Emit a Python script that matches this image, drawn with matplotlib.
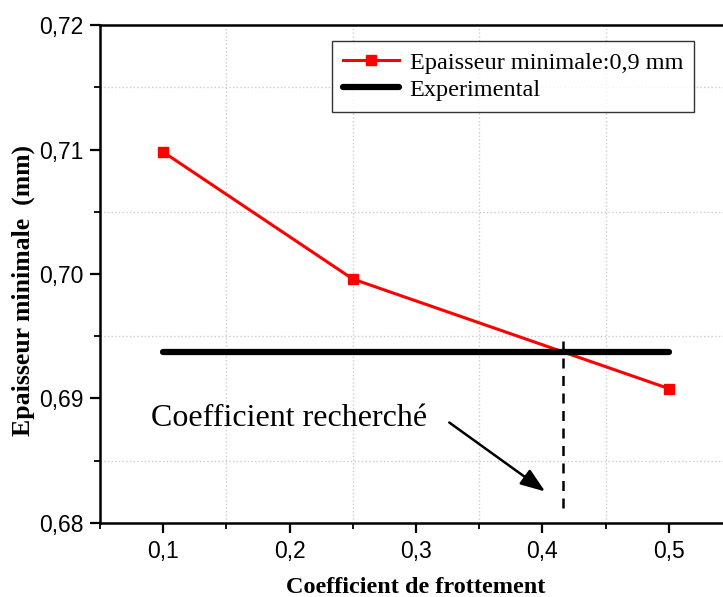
import matplotlib.pyplot as plt
from matplotlib.ticker import MultipleLocator, FuncFormatter

coef = [0.1, 0.25, 0.5]
epaisseur = [0.7098, 0.6996, 0.6908]
exp_x = [0.1, 0.5]
exp_val = [0.6937, 0.6937]
coef_recherche = 0.416

fig = plt.figure(figsize=(7.23, 5.97), dpi=100)
ax = fig.add_axes([0.1383, 0.124, 0.874, 0.834])

ax.plot(coef, epaisseur, color='red', lw=2.2, marker='s', ms=7,
        label='Epaisseur minimale:0,9 mm')
ax.plot(exp_x, exp_val, color='black', lw=4.5, solid_capstyle='round',
        label='Experimental')

# ligne pointillee du coefficient recherche
ax.plot([coef_recherche, coef_recherche], [0.6812, 0.6946], color='black',
        lw=1.8, ls=(0, (4, 3)))
ax.annotate('', xy=(0.404, 0.6824), xytext=(0.3246, 0.6882),
            arrowprops=dict(arrowstyle='-|>,head_length=1.5,head_width=0.55',
                            color='black', lw=1.8))
ax.text(0.09, 0.6884, 'Coefficient recherché', family='Liberation Serif',
        fontsize=23, va='center', ha='left')

ax.set_xlim(0.05, 0.55)
ax.set_ylim(0.68, 0.72)
ax.xaxis.set_major_locator(MultipleLocator(0.1))
ax.xaxis.set_minor_locator(MultipleLocator(0.05))
ax.yaxis.set_major_locator(MultipleLocator(0.01))
ax.yaxis.set_minor_locator(MultipleLocator(0.005))
ax.xaxis.set_major_formatter(FuncFormatter(lambda v, p: f'{v:.1f}'.replace('.', ',')))
ax.yaxis.set_major_formatter(FuncFormatter(lambda v, p: f'{v:.2f}'.replace('.', ',')))

ax.grid(which='minor', color='#cccccc', ls=':', lw=1)
ax.tick_params(which='major', direction='out', length=7, width=1.6,
               labelsize=16.5, pad=5)
ax.tick_params(which='minor', direction='out', length=4, width=1.3)
for lab in ax.get_xticklabels() + ax.get_yticklabels():
    lab.set_family('Liberation Sans')
for s in ['left', 'bottom', 'top']:
    ax.spines[s].set_linewidth(1.8)
ax.spines['right'].set_visible(False)

ax.set_xlabel('Coefficient de frottement', family='Liberation Serif',
              fontweight='bold', fontsize=17.5, labelpad=10)
ax.set_ylabel('Epaisseur minimale  (mm)', family='Liberation Serif',
              fontweight='bold', fontsize=18.5)
ax.yaxis.set_label_coords(-0.103, 0.466)

leg = ax.legend(loc='upper left', bbox_to_anchor=(0.367, 0.968),
                borderaxespad=0,
                prop={'family': 'Liberation Serif', 'size': 17.5},
                frameon=True, fancybox=False, edgecolor='black',
                handlelength=2.3, borderpad=0.45, labelspacing=0.2,
                handletextpad=0.45)
leg.get_frame().set_linewidth(1)

fig.savefig('out.png', dpi=100)
